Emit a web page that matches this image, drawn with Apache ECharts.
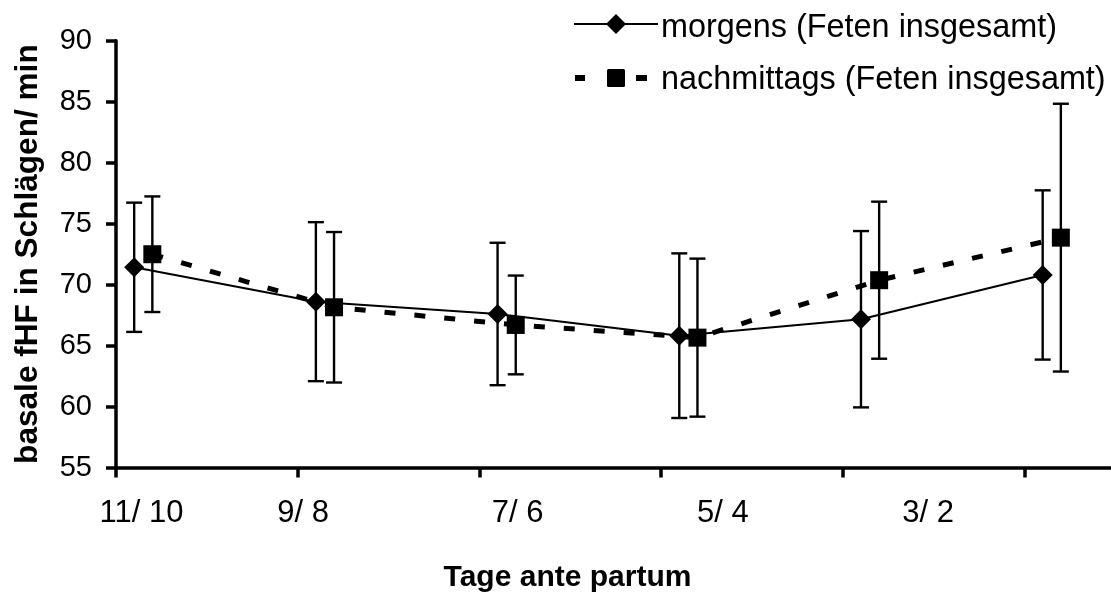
<!DOCTYPE html>
<html>
<head>
<meta charset="utf-8">
<script src="https://cdn.jsdelivr.net/npm/echarts@6/dist/echarts.min.js"></script>
<style>
  html, body { margin: 0; padding: 0; background: #fff; }
  #chart { width: 1111px; height: 595px; }
</style>
</head>
<body>
<div id="chart"></div>
<script>
// Day pairs before birth (x axis text), six measurement days
const dayLabels = ['11/ 10', '9/ 8', '7/ 6', '5/ 4', '3/ 2'];
const dayIndex = [0, 1, 2, 3, 4, 5];

// Basal fetal heart rate (beats/min): mean and standard deviation
const morningMean = [71.42, 68.6, 67.59, 65.81, 67.16, 70.79];
const morningSD = [5.3, 6.52, 5.84, 6.75, 7.23, 6.94];
const afternoonMean = [72.49, 68.14, 66.69, 65.65, 70.36, 73.85];
const afternoonSD = [4.74, 6.17, 4.05, 6.48, 6.44, 10.98];

// Y axis scale
const yMin = 55, yMax = 90, yStep = 5;

const seriesNames = ['morgens (Feten insgesamt)', 'nachmittags (Feten insgesamt)'];

// Layout: horizontal offset of each series within a day, label anchor positions
const morningOffset = 0.1;
const afternoonOffset = 0.2;
const labelPos = [0.14, 1.03, 2.21, 3.34, 4.47];
const xMax = 5.476;

const FONT = '"Liberation Sans", Arial, sans-serif';

const morningPts = dayIndex.map((d, i) => [d + morningOffset, morningMean[i]]);
const afternoonPts = dayIndex.map((d, i) => [d + afternoonOffset, afternoonMean[i]]);
const morningErr = dayIndex.map((d, i) => [d + morningOffset, morningMean[i] - morningSD[i], morningMean[i] + morningSD[i]]);
const afternoonErr = dayIndex.map((d, i) => [d + afternoonOffset, afternoonMean[i] - afternoonSD[i], afternoonMean[i] + afternoonSD[i]]);

function errorBar(params, api) {
  const x = api.value(0);
  const lo = api.coord([x, api.value(1)]);
  const hi = api.coord([x, api.value(2)]);
  const cap = 8;
  const style = { stroke: '#000', lineWidth: 2.4 };
  return {
    type: 'group',
    children: [
      { type: 'line', shape: { x1: lo[0], y1: lo[1], x2: hi[0], y2: hi[1] }, style },
      { type: 'line', shape: { x1: hi[0] - cap, y1: hi[1], x2: hi[0] + cap, y2: hi[1] }, style },
      { type: 'line', shape: { x1: lo[0] - cap, y1: lo[1], x2: lo[0] + cap, y2: lo[1] }, style }
    ]
  };
}

// Legend keys drawn as graphic elements: solid line with diamond, dashes with square
const legendRow1 = 24, legendRow2 = 78, keyX0 = 574, keyX1 = 658, keyMid = 616, textX = 661;
const legendGraphics = [
  { type: 'line', shape: { x1: keyX0, y1: legendRow1, x2: keyX1, y2: legendRow1 }, style: { stroke: '#000', lineWidth: 2 } },
  { type: 'polygon', shape: { points: [[keyMid, legendRow1 - 10], [keyMid + 10, legendRow1], [keyMid, legendRow1 + 10], [keyMid - 10, legendRow1]] }, style: { fill: '#000' } },
  { type: 'rect', shape: { x: 575, y: legendRow2 - 3, width: 10, height: 6 }, style: { fill: '#000' } },
  { type: 'rect', shape: { x: keyMid - 9, y: legendRow2 - 9, width: 18, height: 18, r: 1.5 }, style: { fill: '#000' } },
  { type: 'rect', shape: { x: 636, y: legendRow2 - 3, width: 11, height: 6 }, style: { fill: '#000' } },
  { type: 'text', x: textX, y: legendRow1 + 4, style: { text: seriesNames[0], font: '32.4px ' + FONT, fill: '#000', verticalAlign: 'middle' } },
  { type: 'text', x: textX, y: legendRow2 + 2, style: { text: seriesNames[1], font: '32.4px ' + FONT, fill: '#000', verticalAlign: 'middle' } }
];

const chart = echarts.init(document.getElementById('chart'), null, { renderer: 'canvas' });

chart.setOption({
  animation: false,
  backgroundColor: '#fff',
  textStyle: { fontFamily: FONT },
  grid: {
    left: 116, right: 0, top: 40.7, bottom: 127.5,
    containLabel: false,
    outerBoundsMode: 'none'
  },
  xAxis: {
    type: 'value',
    min: 0,
    max: xMax,
    interval: 1,
    splitLine: { show: false },
    axisLine: { onZero: false, lineStyle: { color: '#000', width: 3.5 } },
    axisTick: { show: true, length: 10, customValues: dayIndex, lineStyle: { color: '#000', width: 3.5 } },
    axisLabel: {
      customValues: labelPos,
      margin: 30,
      fontFamily: FONT,
      fontSize: 31,
      color: '#000',
      formatter: function (v) {
        const i = labelPos.findIndex(p => Math.abs(p - v) < 1e-6);
        return i >= 0 ? dayLabels[i] : '';
      }
    }
  },
  yAxis: {
    type: 'value',
    min: yMin,
    max: yMax,
    interval: yStep,
    name: 'basale fHF in Schlägen/ min',
    nameLocation: 'middle',
    nameGap: 72,
    nameRotate: 90,
    nameTextStyle: { fontFamily: FONT, fontSize: 31.6, fontWeight: 'bold', color: '#000' },
    splitLine: { show: false },
    axisLine: { show: true, lineStyle: { color: '#000', width: 3.5 } },
    axisTick: { show: true, length: 10, lineStyle: { color: '#000', width: 3.5 } },
    axisLabel: { margin: 24, fontFamily: FONT, fontSize: 29, color: '#000' }
  },
  graphic: [
    {
      type: 'text',
      x: 567.5,
      y: 563,
      style: { text: 'Tage ante partum', font: 'bold 30px ' + FONT, fill: '#000', align: 'center' }
    }
  ].concat(legendGraphics),
  series: [
    {
      type: 'custom',
      name: 'err-m',
      renderItem: errorBar,
      data: morningErr,
      z: 1,
      silent: true
    },
    {
      type: 'custom',
      name: 'err-a',
      renderItem: errorBar,
      data: afternoonErr,
      z: 1,
      silent: true
    },
    {
      type: 'line',
      name: seriesNames[0],
      data: morningPts,
      z: 3,
      symbol: 'diamond',
      symbolSize: 20,
      lineStyle: { color: '#000', width: 2 },
      itemStyle: { color: '#000' }
    },
    {
      type: 'line',
      name: seriesNames[1],
      data: afternoonPts,
      z: 2,
      symbol: 'rect',
      symbolSize: 18,
      lineStyle: { color: '#000', width: 5, type: [11, 19] },
      itemStyle: { color: '#000' }
    }
  ]
});
</script>
</body>
</html>
